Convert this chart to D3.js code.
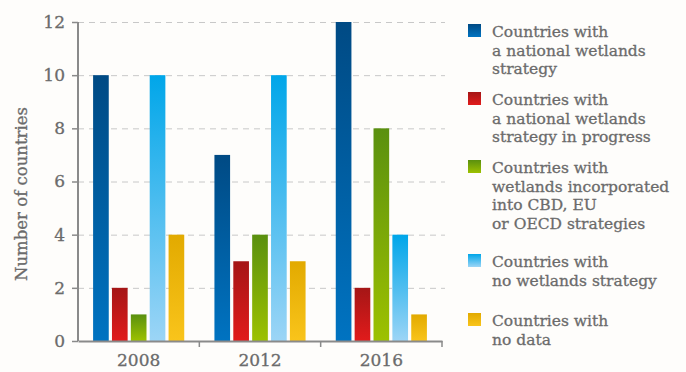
<!DOCTYPE html>
<html>
<head>
<meta charset="utf-8">
<script src="https://cdn.jsdelivr.net/npm/d3@7"></script>
<style>
  body { margin: 0; background: #fefdfb; }
  svg { display: block; font-family: "DejaVu Serif", serif; }
  text { stroke: #6b6b6b; stroke-width: 0.3px; }
</style>
</head>
<body>
<svg id="chart"></svg>
<script>
const years = ["2008", "2012", "2016"];
const seriesNames = [
  ["Countries with", "a national wetlands", "strategy"],
  ["Countries with", "a national wetlands", "strategy in progress"],
  ["Countries with", "wetlands incorporated", "into CBD, EU", "or OECD strategies"],
  ["Countries with", "no wetlands strategy"],
  ["Countries with", "no data"]
];
const nationalStrategy = [10, 7, 12];
const inProgress = [2, 3, 2];
const incorporated = [1, 4, 8];
const noStrategy = [10, 10, 4];
const noData = [4, 3, 1];
const yTicks = [0, 2, 4, 6, 8, 10, 12];

// top / bottom gradient colours per series
const gradients = [
  ["#004a84", "#0073c1"],
  ["#a51616", "#e11b1b"],
  ["#5a900f", "#9dc100"],
  ["#00a6e9", "#9cd5f6"],
  ["#e2aa00", "#f9c41b"]
];

const width = 686, height = 372;
const margin = { top: 22, right: 244, bottom: 31, left: 78 };
const fontFamily = "DejaVu Serif, serif";

const values = [nationalStrategy, inProgress, incorporated, noStrategy, noData];
const data = years.map((y, i) => ({
  year: y,
  bars: values.map((v, s) => ({ series: s, value: v[i] }))
}));

const svg = d3.select("#chart").attr("width", width).attr("height", height);

const defs = svg.append("defs");
gradients.forEach((g, i) => {
  const lg = defs.append("linearGradient")
    .attr("id", "grad" + i)
    .attr("x1", 0).attr("y1", 0).attr("x2", 0).attr("y2", 1);
  lg.append("stop").attr("offset", "0%").attr("stop-color", g[0]);
  lg.append("stop").attr("offset", "100%").attr("stop-color", g[1]);
});

const x0 = d3.scaleBand()
  .domain(years)
  .range([margin.left, width - margin.right])
  .padding(0);

const x1 = d3.scaleBand()
  .domain(d3.range(values.length))
  .range([0, x0.bandwidth()])
  .paddingInner(0.17)
  .paddingOuter(0.8);

const y = d3.scaleLinear()
  .domain([0, 12])
  .range([height - margin.bottom, margin.top]);

// gridlines
svg.append("g")
  .selectAll("line")
  .data(yTicks.filter(d => d > 0))
  .join("line")
  .attr("x1", margin.left)
  .attr("x2", width - margin.right + 3)
  .attr("y1", d => y(d) + 0.5)
  .attr("y2", d => y(d) + 0.5)
  .attr("stroke", "#c8c8c8")
  .attr("stroke-width", 1)
  .attr("stroke-dasharray", "6,5");

// bars
svg.append("g")
  .selectAll("g")
  .data(data)
  .join("g")
  .attr("transform", d => `translate(${x0(d.year)},0)`)
  .selectAll("rect")
  .data(d => d.bars)
  .join("rect")
  .attr("x", d => x1(d.series))
  .attr("y", d => y(d.value))
  .attr("width", x1.bandwidth())
  .attr("height", d => y(0) - y(d.value))
  .attr("fill", d => `url(#grad${d.series})`);

// axes
const axisColor = "#8a8a8a";
const textColor = "#6b6b6b";

const yAxis = svg.append("g")
  .attr("transform", `translate(${margin.left},0)`)
  .call(d3.axisLeft(y).tickValues(yTicks).tickSize(6).tickPadding(7));
yAxis.select(".domain").attr("stroke", axisColor).attr("stroke-width", 2)
  .attr("d", `M0,${y(12)}V${y(0)}`);
yAxis.selectAll(".tick line").attr("stroke", axisColor).attr("stroke-width", 1.5);
yAxis.selectAll(".tick text")
  .attr("fill", textColor)
  .attr("font-size", 17)
  .attr("font-family", fontFamily);

const xAxis = svg.append("g")
  .attr("transform", `translate(0,${y(0)})`)
  .call(d3.axisBottom(x0).tickSize(0).tickPadding(0));
xAxis.select(".domain").attr("stroke", axisColor).attr("stroke-width", 2);
xAxis.selectAll(".tick text")
  .attr("fill", textColor)
  .attr("font-size", 17)
  .attr("font-family", fontFamily)
  .attr("y", 25)
  .attr("dy", 0);

// separator ticks between groups
xAxis.append("g")
  .selectAll("line")
  .data(years.slice(1).map(d => x0(d)).concat([x0.range()[1]]))
  .join("line")
  .attr("x1", d => d).attr("x2", d => d)
  .attr("y1", 0).attr("y2", 6)
  .attr("stroke", axisColor).attr("stroke-width", 1.5);

svg.append("text")
  .attr("transform", "translate(27,194) rotate(-90)")
  .attr("text-anchor", "middle")
  .attr("fill", textColor)
  .attr("font-size", 16.5)
  .text("Number of countries");

// legend
const legendTop = [37, 105, 173, 267, 326];
const legend = svg.append("g").attr("transform", "translate(468,0)");
const items = legend.selectAll("g")
  .data(seriesNames)
  .join("g")
  .attr("transform", (d, i) => `translate(0,${legendTop[i]})`);

items.append("rect")
  .attr("x", 0).attr("y", -13)
  .attr("width", 13).attr("height", 13)
  .attr("fill", (d, i) => `url(#grad${i})`);

items.append("text")
  .attr("x", 24)
  .attr("fill", textColor)
  .attr("font-size", 15.5)
  .selectAll("tspan")
  .data(d => d)
  .join("tspan")
  .attr("x", 24)
  .attr("dy", (d, i) => i === 0 ? 0 : 18.5)
  .text(d => d);
</script>
</body>
</html>
